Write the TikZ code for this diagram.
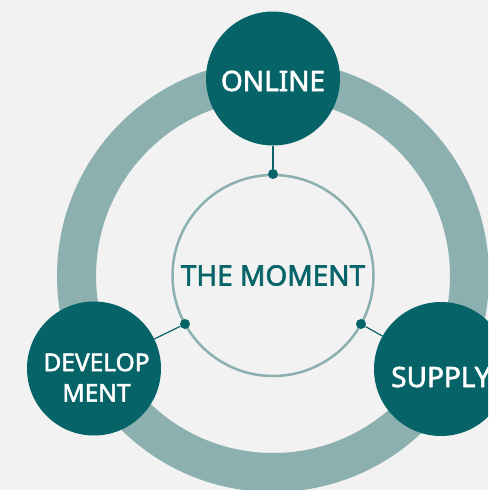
\documentclass[tikz,border=0pt]{standalone}
\usepackage{fontspec}
\setmainfont{Noto Sans}
\newfontfamily\medfont{Noto Sans}[FakeBold=2]
\definecolor{bg}{HTML}{F2F2F2}
\definecolor{teal}{HTML}{066468}
\definecolor{ringc}{HTML}{8CAFAF}
\begin{document}
\begin{tikzpicture}[x=1pt,y=-1pt,
  bignode/.style={circle,fill=teal,minimum size=134pt,inner sep=0pt},
  btext/.style={text=white,align=center,inner sep=0pt,font=\medfont\fontsize{28}{32}\selectfont},
  dotnode/.style={circle,fill=teal,minimum size=10pt,inner sep=0pt},
  link/.style={draw=teal,line width=1.2pt}]
\useasboundingbox (0,0) rectangle (488,490);
\clip (0,0) rectangle (488,490);
\fill[bg] (0,0) rectangle (488,490);
% outer ring
\draw[ringc,line width=39pt] (273,276) circle[radius=196.5];
% central circle
\node[circle,draw=ringc,line width=2.5pt,minimum size=201pt,inner sep=0pt,
  text=teal,font=\medfont\fontsize{28}{32}\selectfont] (moment) at (273,275.5) {THE MOMENT};
% dots on the central circle
\node[dotnode] (dtop) at (273,174) {};
\node[dotnode] (dleft) at (185,324) {};
\node[dotnode] (dright) at (361,324) {};
% outer nodes
\node[bignode] (online) at (273,78.5) {};
\node[bignode] (dev) at (94,368.5) {};
\node[bignode] (supply) at (441,369) {};
\node[btext] (onlinet) at (273,81) {ONLINE};
\node[btext,font=\medfont\fontsize{24.5}{31}\selectfont] (devt) at (96.5,377.5) {DEVELOP\\[-0.5pt]MENT};
\node[btext,anchor=west] (supplyt) at (391,377) {SUPPLY};
% connectors
\draw[link] (dtop) -- (online);
\draw[link] (dleft) -- (dev);
\draw[link] (dright) -- (supply);
\end{tikzpicture}
\end{document}
